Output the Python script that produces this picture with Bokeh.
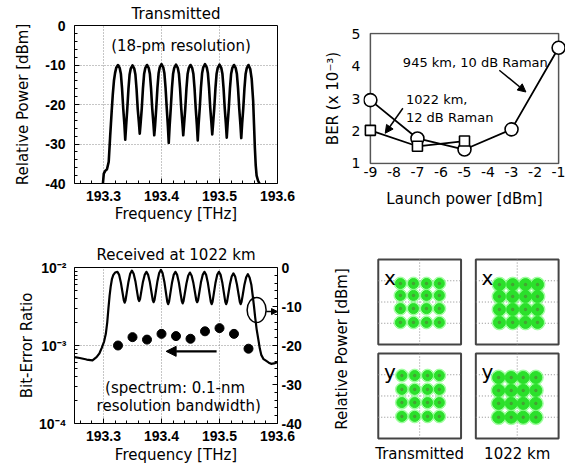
from bokeh.plotting import figure
from bokeh.models import (Range1d, LinearAxis, LinearScale, FixedTicker,
                          CustomJSTickFormatter, Arrow, NormalHead)
from bokeh.layouts import column, row
from bokeh.embed import file_html
from bokeh.resources import INLINE
from bokeh.core.properties import value

TXT_FONT = "DejaVu Sans"
TICK_FONT = "Liberation Sans"

# ------------------------------------------------------------------ data
freq_ticks = [193.3, 193.4, 193.5, 193.6]
freq_minor = [193.26, 193.28, 193.30, 193.32, 193.34, 193.36, 193.38, 193.40,
              193.42, 193.44, 193.46, 193.48, 193.50, 193.52, 193.54, 193.56, 193.58]
power_ticks = [0, -10, -20, -30, -40]
power_minor = [-2, -4, -6, -8, -12, -14, -16, -18, -22, -24, -26, -28,
               -32, -34, -36, -38]
ber_ticks = [1e-4, 1e-3, 1e-2]
ber_tick_labels = ["10\u207b\u2074", "10\u207b\u00b3", "10\u207b\u00b2"]
ber_minor = [2e-4, 3e-4, 4e-4, 5e-4, 6e-4, 7e-4, 8e-4, 9e-4,
             2e-3, 3e-3, 4e-3, 5e-3, 6e-3, 7e-3, 8e-3, 9e-3]
launch_ticks = [-9, -8, -7, -6, -5, -4, -3, -2, -1]
ber_lin_ticks = [1, 2, 3, 4, 5]

# transmitted spectrum (18-pm resolution): (frequency THz, power dBm)
tx_points = [
    (193.2990, -40.0), (193.3005, -37.5), (193.3030, -36.8), (193.3060, -36.4),
    (193.3090, -34.5), (193.3115, -28.0), (193.3140, -22.0), (193.3160, -17.5),
    (193.3180, -14.0), (193.3200, -12.0), (193.3220, -10.7),
    (193.3250, -10.0), (193.3280, -10.8), (193.3300, -12.3), (193.3320, -16.0),
    (193.3340, -21.0), (193.3360, -25.0), (193.3375, -28.9),
    (193.3390, -25.5), (193.3410, -21.1), (193.3430, -16.1), (193.3450, -12.4),
    (193.3470, -10.9), (193.3500, -10.1), (193.3530, -10.9), (193.3550, -12.4),
    (193.3570, -16.1), (193.3590, -21.1), (193.3610, -24.5), (193.3625, -27.4),
    (193.3640, -24.8), (193.3660, -21.0), (193.3680, -16.0), (193.3700, -12.3),
    (193.3720, -10.8), (193.3750, -10.0), (193.3780, -10.8), (193.3800, -12.3),
    (193.3820, -16.0), (193.3840, -21.0), (193.3860, -24.7), (193.3875, -27.8),
    (193.3890, -25.2), (193.3910, -20.8), (193.3930, -15.8), (193.3950, -12.1),
    (193.3970, -10.6), (193.4000, -9.8), (193.4030, -10.6), (193.4050, -12.1),
    (193.4070, -15.8), (193.4090, -20.8), (193.4110, -25.5), (193.4125, -29.7),
    (193.4140, -25.5), (193.4160, -20.9), (193.4180, -15.9), (193.4200, -12.2),
    (193.4220, -10.7), (193.4250, -9.9), (193.4280, -10.7), (193.4300, -12.2),
    (193.4320, -15.9), (193.4340, -20.9), (193.4360, -24.7), (193.4375, -27.8),
    (193.4390, -24.9), (193.4410, -21.0), (193.4430, -16.0), (193.4450, -12.3),
    (193.4470, -10.8), (193.4500, -10.0), (193.4530, -10.8), (193.4550, -12.3),
    (193.4570, -16.0), (193.4590, -21.0), (193.4610, -25.2), (193.4625, -29.1),
    (193.4640, -25.0), (193.4660, -20.8), (193.4680, -15.8), (193.4700, -12.1),
    (193.4720, -10.6), (193.4750, -9.8), (193.4780, -10.6), (193.4800, -12.1),
    (193.4820, -15.8), (193.4840, -20.8), (193.4860, -24.6), (193.4875, -27.6),
    (193.4890, -24.8), (193.4910, -20.9), (193.4930, -15.9), (193.4950, -12.2),
    (193.4970, -10.7), (193.5000, -9.9), (193.5030, -10.7), (193.5050, -12.2),
    (193.5070, -15.9), (193.5090, -20.9), (193.5110, -24.9), (193.5125, -28.4),
    (193.5140, -25.0), (193.5160, -21.0), (193.5180, -16.0), (193.5200, -12.3),
    (193.5220, -10.8), (193.5250, -10.0), (193.5280, -10.8), (193.5300, -12.3),
    (193.5320, -16.0), (193.5340, -21.0), (193.5360, -25.0), (193.5375, -28.5),
    (193.5390, -25.0), (193.5410, -21.0), (193.5430, -16.0), (193.5450, -12.3),
    (193.5470, -10.8), (193.5500, -10.0), (193.5530, -11.0), (193.5555, -13.5),
    (193.5580, -19.0), (193.5595, -25.0), (193.5610, -31.0), (193.5625, -35.5),
    (193.5640, -38.0), (193.5665, -39.3), (193.5690, -40.0),
]

# received spectrum at 1022 km (0.1-nm resolution): (frequency THz, power dBm)
rx_points = [
    (193.2500, -23.0), (193.2590, -23.2), (193.2710, -23.6), (193.2810, -23.8),
    (193.2880, -23.0), (193.2930, -22.0), (193.2970, -20.6), (193.3010, -19.0),
    (193.3040, -17.0), (193.3065, -14.0), (193.3085, -10.5), (193.3105, -7.3),
    (193.3125, -4.8), (193.3145, -3.0), (193.3170, -1.9), (193.3200, -1.3),
    (193.3240, -1.1), (193.3270, -1.9), (193.3300, -3.9), (193.3330, -6.6),
    (193.3350, -8.4), (193.3365, -9.0), (193.3380, -8.4), (193.3400, -6.5),
    (193.3430, -3.7), (193.3460, -1.6), (193.3490, -0.8), (193.3520, -1.6),
    (193.3550, -3.5), (193.3580, -6.3), (193.3600, -8.1), (193.3615, -8.6),
    (193.3630, -8.1), (193.3650, -6.3), (193.3680, -3.7), (193.3710, -1.9),
    (193.3740, -1.1), (193.3770, -1.9), (193.3800, -3.8), (193.3830, -6.6),
    (193.3850, -8.4), (193.3865, -8.9), (193.3880, -8.3), (193.3900, -6.4),
    (193.3930, -3.5), (193.3960, -1.4), (193.3990, -0.6), (193.4020, -1.5),
    (193.4050, -3.7), (193.4080, -6.8), (193.4100, -8.8), (193.4115, -9.4),
    (193.4130, -8.8), (193.4150, -6.9), (193.4180, -4.0), (193.4210, -1.9),
    (193.4240, -1.1), (193.4270, -1.9), (193.4300, -3.9), (193.4330, -6.8),
    (193.4350, -8.6), (193.4365, -9.2), (193.4380, -8.6), (193.4400, -6.8),
    (193.4430, -4.1), (193.4460, -2.1), (193.4490, -1.3), (193.4520, -2.1),
    (193.4550, -4.0), (193.4580, -6.6), (193.4600, -8.4), (193.4615, -8.9),
    (193.4630, -8.4), (193.4650, -6.6), (193.4680, -3.8), (193.4710, -1.9),
    (193.4740, -1.1), (193.4770, -1.9), (193.4800, -4.0), (193.4830, -6.9),
    (193.4850, -8.8), (193.4865, -9.4), (193.4880, -8.8), (193.4900, -6.9),
    (193.4930, -4.0), (193.4960, -1.9), (193.4990, -1.1), (193.5020, -1.9),
    (193.5050, -4.0), (193.5080, -6.9), (193.5100, -8.8), (193.5115, -9.4),
    (193.5130, -8.8), (193.5150, -7.0), (193.5180, -4.3), (193.5210, -2.3),
    (193.5240, -1.5), (193.5270, -2.3), (193.5300, -4.3), (193.5330, -7.0),
    (193.5350, -8.8), (193.5365, -9.4), (193.5380, -8.8), (193.5400, -7.1),
    (193.5430, -4.4), (193.5460, -2.5), (193.5490, -1.7), (193.5520, -2.6),
    (193.5550, -4.5), (193.5575, -7.5), (193.5595, -10.0), (193.5615, -12.8),
    (193.5640, -15.8), (193.5670, -18.5), (193.5695, -20.8), (193.5720, -22.4),
    (193.5760, -23.5), (193.5800, -23.9), (193.5850, -24.4), (193.5890, -24.7),
    (193.5940, -24.6), (193.6000, -24.3),
]

# per-channel BER at 1022 km
ber_freq = [193.325, 193.350, 193.375, 193.400, 193.425,
            193.450, 193.475, 193.500, 193.525, 193.550]
ber_values = [1.00e-3, 1.28e-3, 1.19e-3, 1.41e-3, 1.32e-3,
              1.22e-3, 1.52e-3, 1.67e-3, 1.41e-3, 0.91e-3]

# BER vs launch power (x 10^-3)
launch_945 = [-9, -7, -5, -3, -1]
ber_945 = [2.95, 1.77, 1.43, 2.05, 4.56]
launch_1022 = [-9, -7, -5]
ber_1022 = [2.02, 1.53, 1.69]

# 16-QAM constellation cluster centres (normalised), per panel
const_labels = ["Transmitted", "1022 km"]
xpol_tx_i = [-0.93, -0.30, 0.33, 0.95]
xpol_tx_q = [0.87, 0.31, -0.31, -0.96]
xpol_rx_i = [-0.86, -0.22, 0.40, 0.98]
xpol_rx_q = [0.82, 0.26, -0.35, -0.96]
ypol_tx_i = [-0.86, -0.24, 0.38, 0.95]
ypol_tx_q = [0.96, 0.31, -0.31, -0.96]
ypol_rx_i = [-0.90, -0.29, 0.29, 0.90]
ypol_rx_q = [0.87, 0.26, -0.35, -1.00]


def xy(points):
    return [a for a, _ in points], [b for _, b in points]


tx_freq, tx_power = xy(tx_points)
rx_freq, rx_power = xy(rx_points)

ascii_fmt = CustomJSTickFormatter(code="return String(tick);")


def style_axis(ax, bold=True, size="14px"):
    ax.major_label_text_font = TICK_FONT if bold else TXT_FONT
    ax.major_label_text_font_style = "bold" if bold else "normal"
    ax.major_label_text_font_size = size
    ax.major_label_text_color = "black"
    ax.axis_label_text_font = TXT_FONT
    ax.axis_label_text_font_style = "normal"
    ax.axis_label_text_font_size = "15px"
    ax.axis_label_text_color = "black"
    ax.major_tick_in = 5
    ax.major_tick_out = 0
    ax.minor_tick_in = 3
    ax.minor_tick_out = 0
    ax.major_tick_line_color = "black"
    ax.minor_tick_line_color = "black"
    ax.axis_line_color = None


def style_title(p, standoff):
    p.title.align = "center"
    p.title.text_font = TXT_FONT
    p.title.text_font_style = "normal"
    p.title.text_font_size = "15px"
    p.title.text_color = "black"
    p.title.standoff = standoff


def style_grid(g):
    g.grid_line_color = "#8c8c8c"
    g.grid_line_dash = "1 2"
    g.grid_line_width = 1


# ------------------------------------------------------------------ panel 1
p1 = figure(width=320, height=235, x_range=Range1d(193.25, 193.6),
            y_range=Range1d(-40, 0), title="Transmitted",
            output_backend="svg", toolbar_location=None,
            min_border_left=74, min_border_right=43, min_border_top=25,
            min_border_bottom=52)
style_title(p1, 5)
p1.outline_line_color = "black"
p1.outline_line_alpha = 1
p1.outline_line_width = 1
p1.xaxis.ticker = FixedTicker(ticks=freq_ticks, minor_ticks=freq_minor)
p1.yaxis.ticker = FixedTicker(ticks=power_ticks, minor_ticks=power_minor)
p1.yaxis.formatter = ascii_fmt
p1.xaxis.axis_label = "Frequency [THz]"
p1.yaxis.axis_label = "Relative Power [dBm]"
style_axis(p1.xaxis[0])
style_axis(p1.yaxis[0])
p1.xaxis.major_label_standoff = 7
p1.xaxis.axis_label_standoff = 1
p1.yaxis.major_label_standoff = 9
p1.yaxis.axis_label_standoff = 10
style_grid(p1.xgrid[0])
style_grid(p1.ygrid[0])
p1.line(tx_freq, tx_power, line_color="black", line_width=2.6, line_join="round")
p1.text(x=[193.4336], y=[-5.1], text=["(18-pm resolution)"],
        text_font=value(TXT_FONT), text_font_size="15px", text_align="center",
        text_baseline="middle", text_color="black")

# ------------------------------------------------------------------ panel 2
p2 = figure(width=245, height=235, x_range=Range1d(-9.293, -0.707),
            y_range=Range1d(0.969, 5.031),
            output_backend="svg", toolbar_location=None,
            min_border_left=40, min_border_right=0, min_border_top=32,
            min_border_bottom=71)
p2.outline_line_color = None
p2.xgrid.visible = False
p2.ygrid.visible = False
p2.xaxis.ticker = FixedTicker(ticks=launch_ticks)
p2.xaxis.formatter = ascii_fmt
p2.yaxis.ticker = FixedTicker(ticks=ber_lin_ticks)
p2.xaxis.axis_label = "Launch power [dBm]"
p2.yaxis.axis_label = "BER (x 10\u207b\u00b3)"
for ax in (p2.xaxis[0], p2.yaxis[0]):
    style_axis(ax, bold=False, size="14px")
    ax.major_tick_in = 0
    ax.minor_tick_in = 0
    ax.major_tick_line_color = None
    ax.minor_tick_line_color = None
p2.xaxis.major_label_standoff = 2
p2.xaxis.axis_label_standoff = 10
p2.yaxis.major_label_standoff = 3
p2.yaxis.axis_label_standoff = 7
p2.quad(left=-9, right=-1, bottom=1, top=5, fill_color=None,
        line_color="#555555", line_width=1.5)
p2.line(launch_945, ber_945, line_color="black", line_width=1.8)
p2.line(launch_1022, ber_1022, line_color="black", line_width=1.8)
p2.scatter(launch_945, ber_945, marker="circle", size=13, fill_color="white",
           line_color="black", line_width=1.6)
p2.scatter(launch_1022, ber_1022, marker="square", size=10, fill_color="white",
           line_color="black", line_width=1.6)
p2.text(x=[-7.62, -7.49, -7.49], y=[4.12, 2.97, 2.43],
        text=["945 km, 10 dB Raman", "1022 km,", "12 dB Raman"],
        text_font=value(TXT_FONT), text_font_size="13px", text_align="left",
        text_baseline="middle", text_color="black")
p2.add_layout(Arrow(end=NormalHead(size=8, fill_color="black", line_color="black"),
                    x_start=-3.52, y_start=3.87, x_end=-2.39, y_end=3.20,
                    line_width=1.5, line_color="black"))
p2.add_layout(Arrow(end=NormalHead(size=8, fill_color="black", line_color="black"),
                    x_start=-7.62, y_start=2.70, x_end=-8.37, y_end=1.93,
                    line_width=1.5, line_color="black"))

# ------------------------------------------------------------------ panel 3
p3 = figure(width=320, height=237, x_range=Range1d(193.25, 193.6),
            y_range=Range1d(1e-4, 1e-2), y_axis_type="log",
            title="Received at 1022 km",
            output_backend="svg", toolbar_location=None,
            min_border_left=74, min_border_right=43, min_border_top=32,
            min_border_bottom=49)
style_title(p3, 7)
p3.outline_line_color = "black"
p3.outline_line_alpha = 1
p3.extra_y_ranges = {"pw": Range1d(-40, 0)}
p3.extra_y_scales = {"pw": LinearScale()}
right_ax = LinearAxis(y_range_name="pw",
                      ticker=FixedTicker(ticks=power_ticks, minor_ticks=power_minor),
                      formatter=CustomJSTickFormatter(code="return String(tick);"))
p3.add_layout(right_ax, "right")
p3.xaxis.ticker = FixedTicker(ticks=freq_ticks, minor_ticks=freq_minor)
left_ax = p3.left[0]
left_ax.ticker = FixedTicker(ticks=ber_ticks, minor_ticks=ber_minor)
left_ax.formatter = CustomJSTickFormatter(
    args=dict(vals=ber_ticks, labels=ber_tick_labels),
    code="""
    let best = 0;
    const lt = Math.log10(tick);
    for (let i = 0; i < vals.length; i++) {
        if (Math.abs(lt - Math.log10(vals[i])) < Math.abs(lt - Math.log10(vals[best]))) best = i;
    }
    return labels[best];
    """)
p3.xaxis.axis_label = "Frequency [THz]"
left_ax.axis_label = "Bit-Error Ratio"
style_axis(p3.xaxis[0])
style_axis(left_ax)
style_axis(right_ax)
p3.xaxis.major_label_standoff = 7
p3.xaxis.axis_label_standoff = 2
left_ax.major_label_standoff = 8
left_ax.axis_label_standoff = 0
right_ax.major_label_standoff = 4
style_grid(p3.xgrid[0])
style_grid(p3.ygrid[0])
p3.line(rx_freq, rx_power, y_range_name="pw", line_color="black",
        line_width=2.2, line_join="round")
p3.scatter(ber_freq, ber_values, marker="circle", size=9, color="black")
p3.ellipse(x=[193.564], y=[-10.9], width=19, height=25,
           width_units="screen", height_units="screen", y_range_name="pw",
           fill_color=None, line_color="black", line_width=1.5)
p3.add_layout(Arrow(end=NormalHead(size=6, fill_color="black", line_color="black"),
                    x_start=193.5805, y_start=-11.3, x_end=193.6, y_end=-11.3,
                    y_range_name="pw", line_width=1.5, line_color="black"))
p3.add_layout(Arrow(end=NormalHead(size=10, fill_color="black", line_color="black"),
                    x_start=193.495, y_start=-21.5, x_end=193.408, y_end=-21.5,
                    y_range_name="pw", line_width=2.2, line_color="black"))
p3.text(x=[193.4235, 193.4296], y=[-30.8, -35.4],
        text=["(spectrum: 0.1-nm", "resolution bandwidth)"], y_range_name="pw",
        text_font=value(TXT_FONT), text_font_size="15px", text_align="center",
        text_baseline="middle", text_color="black")

# ------------------------------------------------------------------ panel 4 (constellations)
box_cx = [0.0, 4.714, 0.0, 4.714]
box_cy = [4.42, 4.42, 0.0, 0.0]
box_pol = ["x", "x", "y", "y"]
box_levels = [(xpol_tx_i, xpol_tx_q, 10), (xpol_rx_i, xpol_rx_q, 12),
              (ypol_tx_i, ypol_tx_q, 10), (ypol_rx_i, ypol_rx_q, 12)]

p4 = figure(width=245, height=237, x_range=Range1d(-2.714, 7.047),
            y_range=Range1d(-2.141, 6.561),
            output_backend="svg", toolbar_location=None,
            min_border_left=40, min_border_right=0, min_border_top=21,
            min_border_bottom=31)
p4.outline_line_color = None
p4.xgrid.visible = False
p4.ygrid.visible = False
p4.xaxis.ticker = FixedTicker(ticks=[box_cx[2], box_cx[3]])
p4.xaxis.formatter = CustomJSTickFormatter(
    args=dict(centers=[box_cx[2], box_cx[3]], labels=const_labels),
    code="""
    let best = 0;
    for (let i = 0; i < centers.length; i++) {
        if (Math.abs(tick - centers[i]) < Math.abs(tick - centers[best])) best = i;
    }
    return labels[best];
    """)
p4.yaxis.ticker = FixedTicker(ticks=[])
p4.yaxis.axis_label = "Relative Power [dBm]"
for ax in (p4.xaxis[0], p4.yaxis[0]):
    style_axis(ax, bold=False, size="15px")
    ax.major_tick_in = 0
    ax.minor_tick_in = 0
    ax.major_tick_line_color = None
    ax.minor_tick_line_color = None
p4.xaxis.major_label_standoff = 3
p4.yaxis.axis_label_standoff = 13

p4.rect(x=box_cx, y=box_cy, width=4, height=4, fill_color="white",
        line_color="#444444", line_width=2)
gx0, gx1, gy0, gy1 = [], [], [], []
for cx, cy in zip(box_cx, box_cy):
    gx0.append(cx); gx1.append(cx); gy0.append(cy - 2); gy1.append(cy + 2)
    for off in (-1, 0, 1):
        gx0.append(cx - 2); gx1.append(cx + 2); gy0.append(cy + off); gy1.append(cy + off)
p4.segment(x0=gx0, y0=gy0, x1=gx1, y1=gy1, line_color="#8c8c8c",
           line_dash="1 2", line_width=1)
for cx, cy, (li, lq, s) in zip(box_cx, box_cy, box_levels):
    px = [cx + a for b in lq for a in li]
    py = [cy + b for b in lq for a in li]
    p4.scatter(px, py, marker="circle", size=s + 3, color="#7dff7d", alpha=0.6)
    p4.scatter(px, py, marker="circle", size=s, color="#2be02b")
    p4.scatter(px, py, marker="circle", size=2.5, color="#5a6e3a", alpha=0.45)
p4.text(x=[cx - 1.72 for cx in box_cx], y=[cy + 1.12 for cy in box_cy], text=box_pol,
        text_font=value(TXT_FONT), text_font_size="20px", text_align="left",
        text_baseline="alphabetic", text_color="black")

layout = row(column(p1, p3), column(p2, p4))
open("out.html", "w").write(file_html(layout, INLINE))
